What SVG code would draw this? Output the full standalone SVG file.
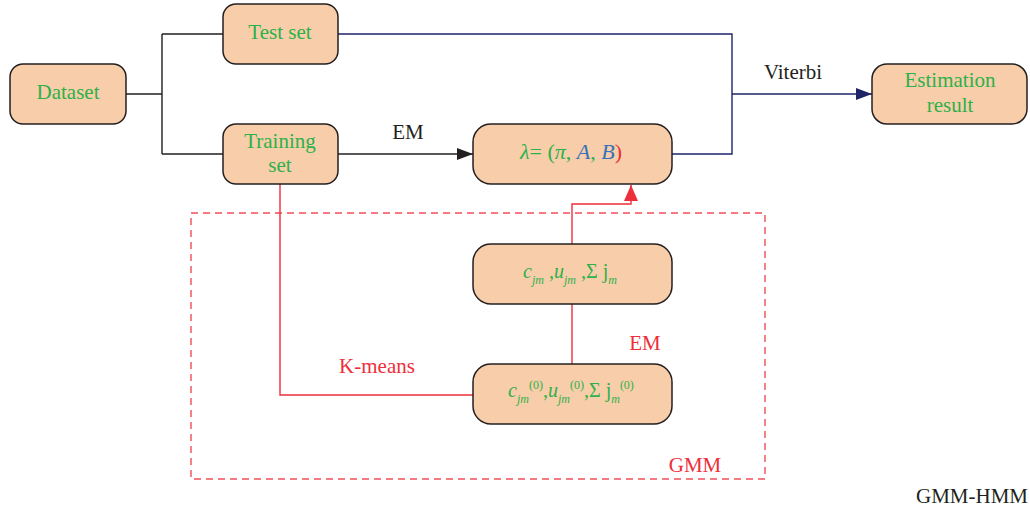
<svg xmlns="http://www.w3.org/2000/svg" width="1030" height="511" viewBox="0 0 1030 511">
<defs>
<style>
.node rect{fill:#F8CDA9;stroke:#231F20;stroke-width:1.5}
text{font-family:"Liberation Serif","Times New Roman",serif;font-size:21px}
.m20{font-size:20px}
.m22{font-size:22px}
.g{fill:#2DB14B}
.k{fill:#231F20}
.r{fill:#EE2E3A}
.b{fill:#3473BA}
.i{font-style:italic}
.s{font-size:12px;font-style:italic}
.s0{font-size:12px}
.conn path{fill:none;stroke-width:1.4}
.blk{stroke:#231F20}
.nav{stroke:#1E2569}
.red{stroke:#EE2E3A}
</style>
<marker id="an" viewBox="0 0 10 10" refX="10" refY="5" markerWidth="16" markerHeight="12" markerUnits="userSpaceOnUse" orient="auto" preserveAspectRatio="none"><path d="M0,0 L10,5 L0,10 z" fill="#1E2569"/></marker>
<marker id="ar" viewBox="0 0 10 10" refX="10" refY="5" markerWidth="16" markerHeight="14" markerUnits="userSpaceOnUse" orient="auto" preserveAspectRatio="none"><path d="M0,0 L10,5 L0,10 z" fill="#EE2E3A"/></marker>
<marker id="ab" viewBox="0 0 10 10" refX="10" refY="5" markerWidth="16" markerHeight="12" markerUnits="userSpaceOnUse" orient="auto" preserveAspectRatio="none"><path d="M0,0 L10,5 L0,10 z" fill="#231F20"/></marker>
</defs>
<rect width="1030" height="511" fill="#fff"/>
<rect x="191" y="213" width="574" height="266" fill="none" stroke="#EE2E3A" stroke-width="1.4" stroke-dasharray="7,5" opacity="0.85"/>
<g class="conn">
<path class="blk" d="M126,94 H162 M162,34 V154 M162,34 H223 M162,154 H223"/>
<path class="blk" d="M338,154 H473" marker-end="url(#ab)"/>
<path class="nav" d="M338,34 H732 V154 H671"/>
<path class="nav" d="M732,94 H872" marker-end="url(#an)"/>
<path class="red" d="M280,184 V395 H473"/>
<path class="red" d="M572,364 V304"/>
<path class="red" d="M572,244 V204 H631 V185" marker-end="url(#ar)"/>
</g>
<g id="labels">
<text x="408" y="139" text-anchor="middle" class="k">EM</text>
<text x="793" y="79" text-anchor="middle" class="k">Viterbi</text>
<text x="377" y="373" text-anchor="middle" class="r">K-means</text>
<text x="645" y="350" text-anchor="middle" class="r">EM</text>
<text x="695" y="472" text-anchor="middle" class="r">GMM</text>
<text x="1028" y="503" text-anchor="end" class="k">GMM-HMM</text>
</g>
<g id="dataset" class="node"><rect x="10" y="64" width="116" height="60" rx="13"/><text x="68" y="99" text-anchor="middle" class="g">Dataset</text></g>
<g id="testset" class="node"><rect x="223" y="4" width="115" height="60" rx="13"/><text x="280" y="39" text-anchor="middle" class="g">Test set</text></g>
<g id="trainingset" class="node"><rect x="223" y="124" width="115" height="60" rx="13"/><text x="280" y="148" text-anchor="middle" class="g">Training</text><text x="280" y="172" text-anchor="middle" class="g">set</text></g>
<g id="estimation" class="node"><rect x="872" y="64" width="155" height="60" rx="15"/><text x="950" y="87" text-anchor="middle" class="g">Estimation</text><text x="950" y="112" text-anchor="middle" class="g">result</text></g>
<g id="lambda" class="node"><rect x="473" y="124" width="199" height="60" rx="18"/><text x="571" y="159" text-anchor="middle" class="g m22"><tspan class="i">λ</tspan>= (<tspan class="i">π</tspan>, <tspan class="i b">A</tspan>, <tspan class="i b">B</tspan><tspan class="r">)</tspan></text></g>
<g id="params" class="node"><rect x="473" y="244" width="199" height="60" rx="18"/><text x="570" y="278" text-anchor="middle" class="g m20"><tspan class="i">c</tspan><tspan class="s" dy="6">jm</tspan><tspan dy="-6"> ,</tspan><tspan class="i">u</tspan><tspan class="s" dy="6">jm</tspan><tspan dy="-6"> ,Σ j</tspan><tspan class="s" dy="6">m</tspan></text></g>
<g id="init" class="node"><rect x="473" y="364" width="199" height="60" rx="18"/><text x="571" y="397" text-anchor="middle" class="g m20"><tspan class="i">c</tspan><tspan class="s" dy="6">jm</tspan><tspan class="s0" dy="-14">(0)</tspan><tspan dy="8">,</tspan><tspan class="i">u</tspan><tspan class="s" dy="6">jm</tspan><tspan class="s0" dy="-14">(0)</tspan><tspan dy="8">,Σ j</tspan><tspan class="s" dy="6">m</tspan><tspan class="s0" dy="-14">(0)</tspan></text></g>
</svg>
